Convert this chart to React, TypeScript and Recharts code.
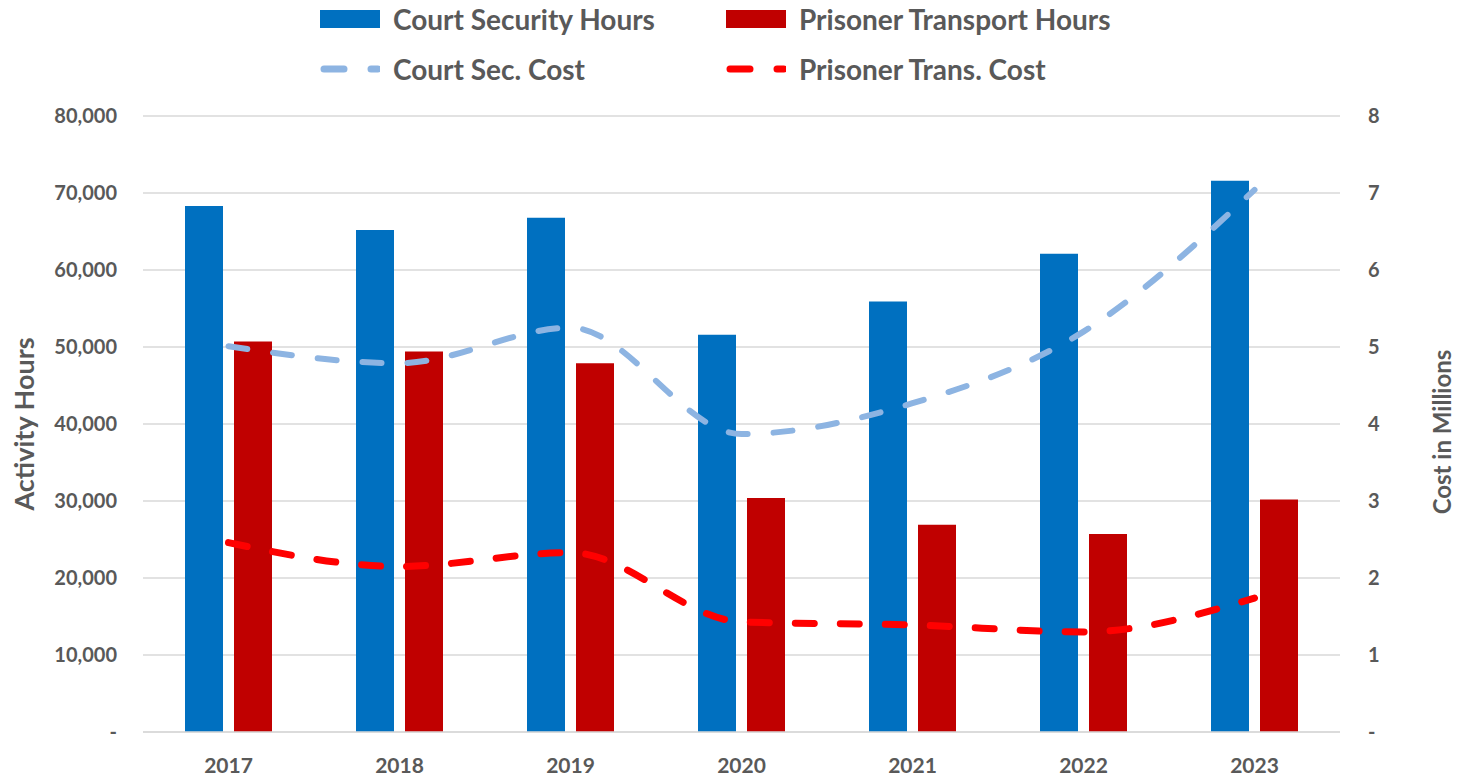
import React from "react";
import {
  ComposedChart,
  Bar,
  Line,
  XAxis,
  YAxis,
  CartesianGrid,
} from "recharts";

const years = ["2017", "2018", "2019", "2020", "2021", "2022", "2023"];
const courtHours = [68300, 65200, 66800, 51600, 55900, 62100, 71600];
const prisonerHours = [50700, 49400, 47900, 30400, 26900, 25700, 30200];
const courtCost = [5.01, 4.79, 5.25, 3.87, 4.27, 5.2, 7.04];
const prisonerCost = [2.46, 2.15, 2.33, 1.43, 1.39, 1.3, 1.74];
const hourTicks = [0, 10000, 20000, 30000, 40000, 50000, 60000, 70000, 80000];
const costTicks = [0, 1, 2, 3, 4, 5, 6, 7, 8];

const FONT = "Lato, 'Noto Sans', sans-serif";
const INK = "#595959";
const COURT = "#0070C0";
const PRISONER = "#C00000";
const COURT_LINE = "#8DB4E2";
const PRISONER_LINE = "#FF0000";

const data = years.map((y, i) => ({
  year: y,
  courtHours: courtHours[i],
  prisonerHours: prisonerHours[i],
  courtCost: courtCost[i],
  prisonerCost: prisonerCost[i],
}));

const fmtHours = (v: number) => (v === 0 ? "-" : v.toLocaleString("en-US"));
const fmtCost = (v: number) => (v === 0 ? "-" : String(v));

const tickStyle = { fill: INK, fontSize: 20, fontWeight: 700, fontFamily: FONT };

function LegendItem({ kind, color, label, left, cy }: any) {
  return (
    <div
      style={{
        position: "absolute",
        left,
        top: cy - 20,
        height: 40,
        display: "flex",
        alignItems: "center",
        whiteSpace: "nowrap",
      }}
    >
      <svg width={60} height={20} style={{ marginRight: 13 }}>
        {kind === "bar" ? (
          <rect x={0} y={1} width={60} height={18} fill={color} />
        ) : (
          <line
            x1={4}
            y1={10}
            x2={58}
            y2={10}
            stroke={color}
            strokeWidth={7}
            strokeLinecap="round"
            strokeDasharray="20 27"
          />
        )}
      </svg>
      <span style={{ color: INK, fontSize: 28, fontWeight: 700, fontFamily: FONT }}>{label}</span>
    </div>
  );
}

function ChartLegend() {
  return (
    <>
      <LegendItem kind="bar" color={COURT} label="Court Security Hours" left={312} cy={11} />
      <LegendItem kind="bar" color={PRISONER} label="Prisoner Transport Hours" left={718} cy={11} />
      <LegendItem kind="line" color={COURT_LINE} label="Court Sec. Cost" left={312} cy={61} />
      <LegendItem kind="line" color={PRISONER_LINE} label="Prisoner Trans. Cost" left={718} cy={61} />
    </>
  );
}

function AxisTitle({ viewBox, text, cx, dy, size }: any) {
  const cy = viewBox.y + viewBox.height / 2 + dy;
  return (
    <text
      x={cx}
      y={cy}
      transform={`rotate(-90, ${cx}, ${cy})`}
      textAnchor="middle"
      dominantBaseline="central"
      fill={INK}
      fontSize={size}
      fontWeight={700}
      fontFamily={FONT}
    >
      {text}
    </text>
  );
}

export default function App() {
  return (
    <div style={{ position: "relative", width: 1450, height: 770 }}>
      <ChartLegend />
      <ComposedChart
        width={1450}
        height={770}
        data={data}
        margin={{ top: 108, right: 0, bottom: 0, left: 0 }}
        barGap={11}
        barCategoryGap={42}
      >
        <CartesianGrid yAxisId="left" vertical={false} stroke="#D9D9D9" strokeWidth={1.5} />
        <XAxis
          dataKey="year"
          height={46}
          tickLine={false}
          axisLine={{ stroke: "#D9D9D9", strokeWidth: 1.5 }}
          tickMargin={20}
          tick={{ ...tickStyle, fontSize: 21 }}
        />
        <YAxis
          yAxisId="left"
          width={135}
          domain={[0, 80000]}
          ticks={hourTicks}
          tickFormatter={fmtHours}
          axisLine={false}
          tickLine={false}
          tickMargin={20}
          tick={tickStyle}
          label={(p: any) => <AxisTitle {...p} text="Activity Hours" cx={15} dy={0} size={27} />}
        />
        <YAxis
          yAxisId="right"
          orientation="right"
          width={118}
          domain={[0, 8]}
          ticks={costTicks}
          tickFormatter={fmtCost}
          axisLine={false}
          tickLine={false}
          tickMargin={22}
          tick={tickStyle}
          label={(p: any) => <AxisTitle {...p} text="Cost in Millions" cx={1433} dy={8} size={24} />}
        />
        <Bar yAxisId="left" dataKey="courtHours" fill={COURT} isAnimationActive={false} />
        <Bar yAxisId="left" dataKey="prisonerHours" fill={PRISONER} isAnimationActive={false} />
        <Line
          yAxisId="right"
          type="monotone"
          dataKey="courtCost"
          stroke={COURT_LINE}
          strokeWidth={6}
          strokeLinecap="round"
          strokeDasharray="19 26"
          dot={false}
          activeDot={false}
          isAnimationActive={false}
        />
        <Line
          yAxisId="right"
          type="monotone"
          dataKey="prisonerCost"
          stroke={PRISONER_LINE}
          strokeWidth={7}
          strokeLinecap="round"
          strokeDasharray="19 26"
          dot={false}
          activeDot={false}
          isAnimationActive={false}
        />
      </ComposedChart>
    </div>
  );
}
